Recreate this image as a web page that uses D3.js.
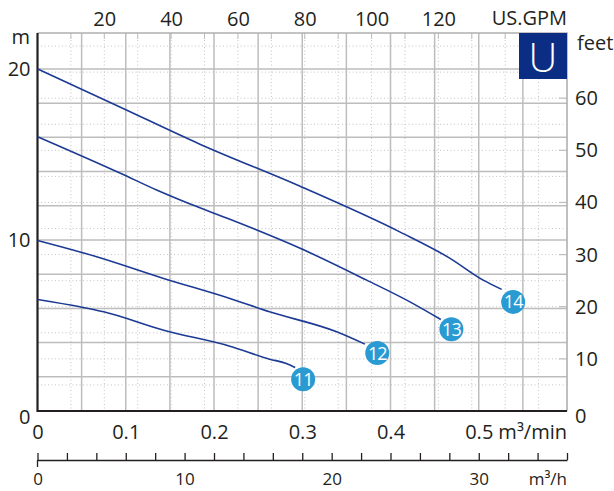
<!DOCTYPE html>
<html><head><meta charset="utf-8">
<script src="https://cdn.jsdelivr.net/npm/d3@7"></script>
<style>
html,body{margin:0;padding:0;background:#fff;}
svg{display:block;font-family:"Open Sans","Noto Sans",sans-serif;}
</style></head>
<body><svg id="c" width="614" height="491"></svg>
<script>
// ---- data (flow in m3/min, head in m) ----
const flowTicksMin = [0, 0.1, 0.2, 0.3, 0.4, 0.5];
const flowTicksHour = [0, 2, 4, 6, 8, 10, 12, 14, 16, 18, 20, 22, 24, 26, 28, 30, 32, 34, 36];
const flowLabelsHour = [0, 10, 20, 30];
const gpmTicks = [20, 40, 60, 80, 100, 120];
const headTicksM = [0, 10, 20];
const headTicksFt = [0, 10, 20, 30, 40, 50, 60];
const pumpNames = ["11", "12", "13", "14"];
const pump11 = [[0, 6.52], [0.048, 6.09], [0.075, 5.80], [0.143, 4.72], [0.218, 3.79], [0.263, 3.03], [0.282, 2.78], [0.292, 2.54]];
const pump12 = [[0, 9.97], [0.067, 9.02], [0.143, 7.75], [0.218, 6.58], [0.263, 5.80], [0.339, 4.63], [0.371, 3.91]];
const pump13 = [[0, 16.04], [0.094, 13.90], [0.135, 12.92], [0.173, 12.10], [0.218, 11.21], [0.297, 9.53], [0.373, 7.65], [0.422, 6.38], [0.457, 5.35]];
const pump14 = [[0, 20.0], [0.094, 17.76], [0.184, 15.60], [0.297, 13.15], [0.411, 10.46], [0.467, 8.94], [0.505, 7.65], [0.526, 7.11]];
const badgePos = [[0.301, 1.85], [0.385, 3.39], [0.469, 4.78], [0.539, 6.38]];

const GPM = 0.00378541, FT = 0.3048;
const svg = d3.select("#c");
const x = d3.scaleLinear().domain([0, 0.6]).range([37.5, 567]);
const y = d3.scaleLinear().domain([0, 22.1]).range([411, 33]);
const xGpm = d3.scaleLinear().domain([0, 0.6 / GPM]).range(x.range());
const xHour = d3.scaleLinear().domain([0, 36]).range(x.range());
const yFt = d3.scaleLinear().domain([0, 22.1 / FT]).range(y.range());
const [L, R] = x.range(), [B, T] = y.range();
const textCol = "#231f20";

// dotted grid
const dotted = svg.append("g").attr("stroke", "#c4c4c4").attr("stroke-width", 1).attr("stroke-dasharray", "1,2.5");
d3.range(10, 160, 10).forEach(g => dotted.append("line").attr("x1", xGpm(g)).attr("x2", xGpm(g)).attr("y1", T).attr("y2", B));
d3.range(5, 75, 5).forEach(f => dotted.append("line").attr("x1", L).attr("x2", R).attr("y1", yFt(f)).attr("y2", yFt(f)));

// solid grid
const solid = svg.append("g").attr("stroke", "#bdbdbd").attr("stroke-width", 1.5);
d3.range(1, 12).map(i => i * 0.05).forEach(q => solid.append("line").attr("x1", x(q)).attr("x2", x(q)).attr("y1", T).attr("y2", B));
d3.range(1, 11).map(i => i * 2).forEach(h => solid.append("line").attr("x1", L).attr("x2", R).attr("y1", y(h)).attr("y2", y(h)));
// small ticks on top and right
d3.range(10, 160, 10).forEach(g => solid.append("line").attr("x1", xGpm(g)).attr("x2", xGpm(g)).attr("y1", T).attr("y2", T + 6).attr("stroke-width", 1));
headTicksFt.forEach(f => solid.append("line").attr("x1", R - 8).attr("x2", R).attr("y1", yFt(f)).attr("y2", yFt(f)).attr("stroke-width", 1.2));
// border
svg.append("path").attr("d", `M${L},${T}H${R}V${B}`).attr("fill", "none").attr("stroke", "#b0b0b0").attr("stroke-width", 1.6);
svg.append("path").attr("d", `M${L},${T}V${B}H${R}`).attr("fill", "none").attr("stroke", textCol).attr("stroke-width", 2.2);

// U badge
svg.append("rect").attr("x", 519).attr("y", T).attr("width", R - 519).attr("height", 46).attr("fill", "#0c2d84");
svg.append("text").attr("x", (519 + R) / 2).attr("y", 71.5).attr("text-anchor", "middle").attr("fill", "#fff")
  .attr("font-size", 40).attr("font-weight", 300).text("U");

// axes
function styleAxis(g, size) {
  g.select(".domain").remove();
  g.selectAll("text").attr("fill", textCol).attr("font-size", size).attr("font-family", "Open Sans");
}
svg.append("g").attr("transform", `translate(0,${T})`)
  .call(d3.axisTop(xGpm).tickValues(gpmTicks).tickSize(0).tickPadding(7)).call(g => styleAxis(g, 20));
svg.append("g").attr("transform", `translate(${L},0)`)
  .call(d3.axisLeft(y).tickValues(headTicksM).tickSize(0).tickPadding(7)).call(g => styleAxis(g, 20))
  .selectAll("text").filter(d => d === 0).attr("dy", "0.6em");
svg.append("g").attr("transform", `translate(${R},0)`)
  .call(d3.axisRight(yFt).tickValues(headTicksFt).tickSize(0).tickPadding(8)).call(g => styleAxis(g, 20))
  .selectAll("text").filter(d => d === 0).attr("dy", "0.55em");
svg.append("g").attr("transform", `translate(0,${B})`)
  .call(d3.axisBottom(x).tickValues(flowTicksMin).tickSize(0).tickPadding(14)
    .tickFormat(d => d === 0 ? "0" : d3.format(".1f")(d))).call(g => styleAxis(g, 20));
const hAx = svg.append("g").attr("transform", "translate(0,460)")
  .call(d3.axisBottom(xHour).tickValues(flowTicksHour).tickSizeInner(-7).tickSizeOuter(0).tickPadding(13)
    .tickFormat(d => flowLabelsHour.includes(d) ? String(d) : ""));
hAx.select(".domain").attr("stroke", textCol).attr("stroke-width", 1.3);
hAx.selectAll("line").attr("stroke", textCol).attr("stroke-width", 1.3);
hAx.selectAll("text").attr("fill", textCol).attr("font-size", 17).attr("font-family", "Open Sans");
svg.append("line").attr("x1", xHour(0)).attr("x2", xHour(0)).attr("y1", 460).attr("y2", 467).attr("stroke", textCol).attr("stroke-width", 1.3);

// unit labels
const unit = (t, xx, yy, anchor, size) => svg.append("text").attr("x", xx).attr("y", yy).attr("text-anchor", anchor)
  .attr("fill", textCol).attr("font-size", size).text(t);
unit("m", 30, 44, "end", 20);
unit("feet", 577, 50, "start", 20);
unit("US.GPM", R, 25, "end", 20);
unit("m³/min", R, 439, "end", 20);
unit("m³/h", R, 485, "end", 17);

// curves
const line = d3.line().x(d => x(d[0])).y(d => y(d[1])).curve(d3.curveMonotoneX);
[pump11, pump12, pump13, pump14].forEach(p => svg.append("path").attr("d", line(p)).attr("fill", "none")
  .attr("stroke", "#1c3a94").attr("stroke-width", 1.6));

// badges
badgePos.forEach((b, i) => {
  const g = svg.append("g").attr("transform", `translate(${x(b[0])},${y(b[1])})`);
  g.append("circle").attr("r", 12).attr("fill", "#2a9ad3");
  g.append("text").attr("text-anchor", "middle").attr("dy", "0.36em").attr("fill", "#fff")
    .attr("font-size", 18).attr("letter-spacing", -1).text(pumpNames[i]);
});
</script></body></html>
